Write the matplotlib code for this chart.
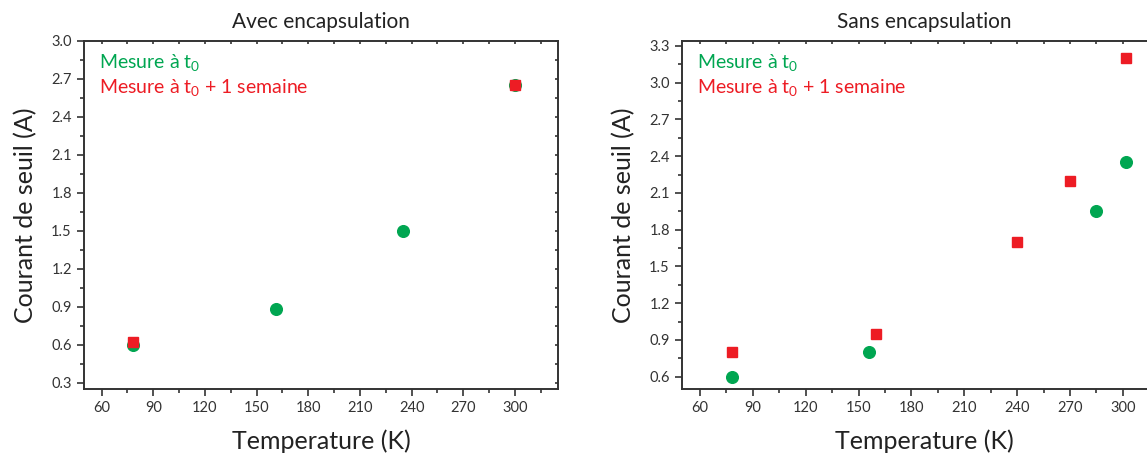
import matplotlib
matplotlib.use("Agg")
import matplotlib.pyplot as plt
from matplotlib.ticker import MultipleLocator

FONT = "Lato"
plt.rcParams["font.family"] = [FONT, "DejaVu Sans"]
plt.rcParams["mathtext.fontset"] = "custom"
plt.rcParams["mathtext.rm"] = FONT
plt.rcParams["mathtext.it"] = FONT
plt.rcParams["mathtext.default"] = "rm"

GREEN = "#00A651"
RED = "#ED1C24"
INK = "#333333"

# Avec encapsulation
avec_t0_temp = [78, 161, 235, 300]
avec_t0_current = [0.60, 0.88, 1.50, 2.65]
avec_week_temp = [78, 300]
avec_week_current = [0.62, 2.65]

# Sans encapsulation
sans_t0_temp = [78, 156, 285, 302]
sans_t0_current = [0.60, 0.80, 1.95, 2.35]
sans_week_temp = [78, 160, 240, 270, 302]
sans_week_current = [0.80, 0.95, 1.70, 2.20, 3.20]

x_ticks = [60, 90, 120, 150, 180, 210, 240, 270, 300]
avec_y_ticks = [0.3, 0.6, 0.9, 1.2, 1.5, 1.8, 2.1, 2.4, 2.7, 3.0]
sans_y_ticks = [0.6, 0.9, 1.2, 1.5, 1.8, 2.1, 2.4, 2.7, 3.0, 3.3]

titles = ["Avec encapsulation", "Sans encapsulation"]
label_t0 = "Mesure à t$_0$"
label_week = "Mesure à t$_0$ + 1 semaine"

W, H = 1147, 459
fig = plt.figure(figsize=(W / 100, H / 100), dpi=100)


def frac(x0, y_top, x1, y_bot):
    return [x0 / W, 1 - y_bot / H, (x1 - x0) / W, (y_bot - y_top) / H]


ax1 = fig.add_axes(frac(84.3, 41, 558, 389))
ax2 = fig.add_axes(frac(682.3, 41, 1167, 389))


def style(ax, title, yticks, ylim, t0x, t0y, wx, wy):
    ax.plot(t0x, t0y, "o", color=GREEN, ms=8.4, mec=GREEN, zorder=3, clip_on=False)
    ax.plot(wx, wy, "s", color=RED, ms=7.4, mec=RED, zorder=4, clip_on=False)
    ax.set_xlim(50, 325)
    ax.set_ylim(*ylim)
    ax.set_xticks(x_ticks)
    ax.set_yticks(yticks)
    ax.set_yticklabels([f"{v:.1f}" for v in yticks])
    ax.xaxis.set_minor_locator(MultipleLocator(15))
    ax.yaxis.set_minor_locator(MultipleLocator(0.15))
    for s in ax.spines.values():
        s.set_linewidth(1.4)
        s.set_color(INK)
    ax.tick_params(which="major", direction="out", length=5, width=1.2,
                   color=INK, labelcolor=INK, labelsize=10.5, pad=4)
    ax.tick_params(which="minor", direction="out", length=3, width=1.2, color=INK)
    ax.set_title(title, fontsize=15, color="#222222", pad=9)
    ax.set_xlabel("Temperature (K)", fontsize=18, color="#222222", labelpad=10)
    ax.set_ylabel("Courant de seuil (A)", fontsize=18, color="#222222", labelpad=10)

    # small inward ticks on the top and right edges
    top = ax.secondary_xaxis("top")
    top.set_xticks(x_ticks)
    top.xaxis.set_minor_locator(MultipleLocator(15))
    top.tick_params(which="both", direction="in", length=2.2, width=1.2,
                    color=INK, labeltop=False)
    top.spines["top"].set_visible(False)
    right = ax.secondary_yaxis("right")
    right.set_yticks(yticks)
    right.yaxis.set_minor_locator(MultipleLocator(0.15))
    right.tick_params(which="both", direction="in", length=2.2, width=1.2,
                      color=INK, labelright=False)
    right.spines["right"].set_visible(False)

    ax.annotate(label_t0, xy=(0, 1), xycoords="axes fraction",
                xytext=(15, -27), textcoords="offset pixels",
                color=GREEN, fontsize=14, va="baseline", ha="left")
    ax.annotate(label_week, xy=(0, 1), xycoords="axes fraction",
                xytext=(15, -52), textcoords="offset pixels",
                color=RED, fontsize=14, va="baseline", ha="left")


style(ax1, titles[0], avec_y_ticks, (0.25, 3.0),
      avec_t0_temp, avec_t0_current, avec_week_temp, avec_week_current)
style(ax2, titles[1], sans_y_ticks, (0.5, 3.34),
      sans_t0_temp, sans_t0_current, sans_week_temp, sans_week_current)

fig.savefig("out.png", dpi=100)
